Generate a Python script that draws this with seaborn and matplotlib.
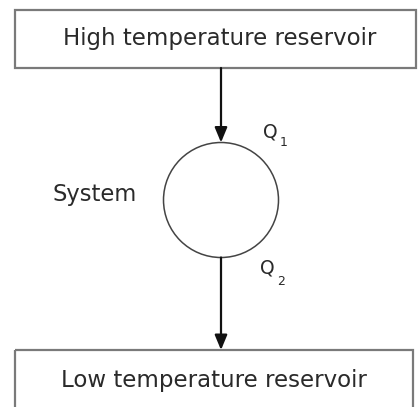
import matplotlib
matplotlib.use("Agg")
import matplotlib.pyplot as plt
from matplotlib.patches import Rectangle, Circle, FancyArrowPatch
import seaborn as sns

# ---- content ----
box_labels = ["High temperature reservoir", "Low temperature reservoir"]
system_label = "System"
heat_symbols = ["Q", "Q"]
heat_subscripts = ["1", "2"]

# ---- geometry (pixel canvas) ----
W, H = 418, 407
top_box = (15, 10, 401, 58)      # x, y, w, h
bot_box = (15, 350, 398, 70)
circle_c = (221, 200)
circle_r = 57.5

sns.set_theme(style="white")
plt.rcParams["font.family"] = ["DejaVu Sans"]

fig = plt.figure(figsize=(W / 100, H / 100), dpi=100)
ax = fig.add_axes([0, 0, 1, 1])
ax.set_xlim(0, W)
ax.set_ylim(H, 0)
ax.axis("off")

box_col = "#7a7a7a"
txt_col = "#2a2a2a"

for (x, y, w, h) in (top_box, bot_box):
    ax.add_patch(Rectangle((x, y), w, h, fill=False, edgecolor=box_col, lw=1.6))

ax.add_patch(Circle(circle_c, circle_r, fill=False, edgecolor="#444444", lw=1.1))

arrow_style = "-|>,head_length=0.6,head_width=0.25"
for (y0, y1) in ((top_box[1] + top_box[3], circle_c[1] - circle_r),
                 (circle_c[1] + circle_r, bot_box[1])):
    ax.add_patch(FancyArrowPatch((circle_c[0], y0), (circle_c[0], y1),
                                 arrowstyle=arrow_style, mutation_scale=15,
                                 color="#111111", lw=1.6, shrinkA=0, shrinkB=0))

ax.text(220, 45, box_labels[0], ha="center", va="baseline", fontsize=16.5, color=txt_col)
ax.text(214, 387, box_labels[1], ha="center", va="baseline", fontsize=16.5, color=txt_col)
ax.text(53, 201, system_label, ha="left", va="baseline", fontsize=16.3, color=txt_col)

q_pos = [(263, 138, 280, 146), (260, 274, 277, 285)]
for sym, sub, (qx, qy, sx, sy) in zip(heat_symbols, heat_subscripts, q_pos):
    ax.text(qx, qy, sym, ha="left", va="baseline", fontsize=13.5, color=txt_col)
    ax.text(sx, sy, sub, ha="left", va="baseline", fontsize=9, color=txt_col)

fig.savefig("out.png", dpi=100, facecolor="white")
